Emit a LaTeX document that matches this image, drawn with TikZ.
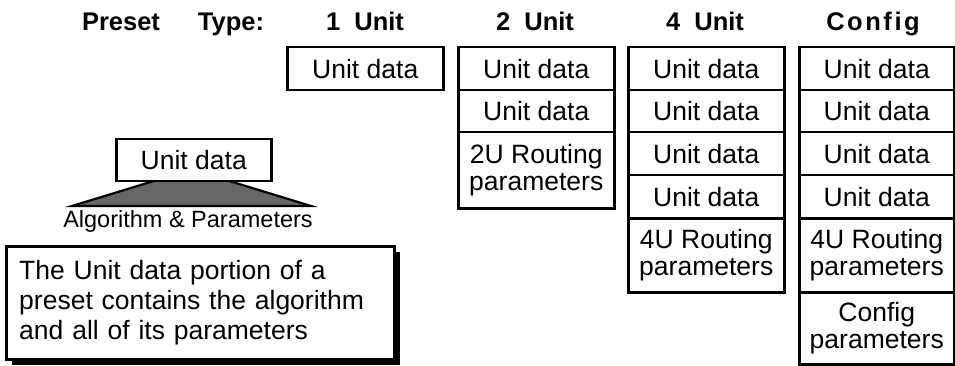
\documentclass[tikz,border=0pt]{standalone}
\usepackage{fontspec}
\setmainfont{Liberation Sans}
\usetikzlibrary{shadows}
\begin{document}
\begin{tikzpicture}[x=1pt,y=-1pt,
  cell/.style={draw, line width=2.5pt, fill=white, minimum width=156pt, anchor=north west,
    inner sep=0pt, align=center, font=\fontsize{26.5}{27}\selectfont},
  ud/.style={cell, minimum height=43pt},
  hd/.style={anchor=base, inner sep=0pt, font=\bfseries\fontsize{25.5}{28}\selectfont},
  txtbox/.style={draw, line width=2.5pt, fill=white, anchor=north west, align=left,
    inner xsep=13pt, inner ysep=0pt, minimum width=388pt, minimum height=113pt, text width=362pt,
    font=\fontsize{26.5}{30}\selectfont,
    drop shadow={shadow xshift=6pt, shadow yshift=-6pt, fill=black, opacity=1}},
  trap/.style={draw, line width=2.2pt, fill=black!60, line join=miter}
]
\useasboundingbox (0,0) rectangle (955,366);

% headers
\node[hd] (hPreset) at (121,31) {Preset};
\node[hd] (hType) at (231,31) {Type:};
\node[hd] (h1) at (365,31) {1\ \ Unit};
\node[hd] (h2) at (535,31) {2\ \ Unit};
\node[hd] (h4) at (705,31) {4\ \ Unit};
\node[hd] (hc) at (873,31) {\addfontfeatures{LetterSpace=10}Config};

% 1 Unit
\node[ud] (a1) at (286,46) {Unit data};

% 2 Unit
\node[ud] (b1) at (457,46) {Unit data};
\node[ud, minimum height=42pt] (b2) at (457,89) {Unit data};
\node[cell, minimum height=76pt] (b3) at (457,131) {2U Routing\\parameters};

% 4 Unit
\node[ud] (c1) at (627,46) {Unit data};
\node[ud, minimum height=42pt] (c2) at (627,89) {Unit data};
\node[ud] (c3) at (627,131) {Unit data};
\node[ud] (c4) at (627,174) {Unit data};
\node[cell, minimum height=74pt] (c5) at (627,217) {4U Routing\\parameters};

% Config
\node[ud, minimum width=155pt] (d1) at (798,46) {Unit data};
\node[ud, minimum width=155pt, minimum height=42pt] (d2) at (798,89) {Unit data};
\node[ud, minimum width=155pt] (d3) at (798,131) {Unit data};
\node[ud, minimum width=155pt] (d4) at (798,174) {Unit data};
\node[cell, minimum width=155pt, minimum height=74pt] (d5) at (798,217) {4U Routing\\parameters};
\node[cell, minimum width=155pt, minimum height=72pt] (d6) at (798,291) {Config\\parameters};

% left illustration
\draw[trap] (157,180) -- (226,180) -- (311,206) -- (72,206) -- cycle;
\node[ud, minimum width=155pt, minimum height=42pt] (lu) at (115,138) {Unit data};
\node[anchor=base, inner sep=0pt, font=\fontsize{23.5}{26}\selectfont] (alg) at (188,227) {Algorithm \& Parameters};

\node[txtbox] (note) at (5,245) {The Unit data portion of a\\preset contains the algorithm\\and all of its parameters};
\end{tikzpicture}
\end{document}
